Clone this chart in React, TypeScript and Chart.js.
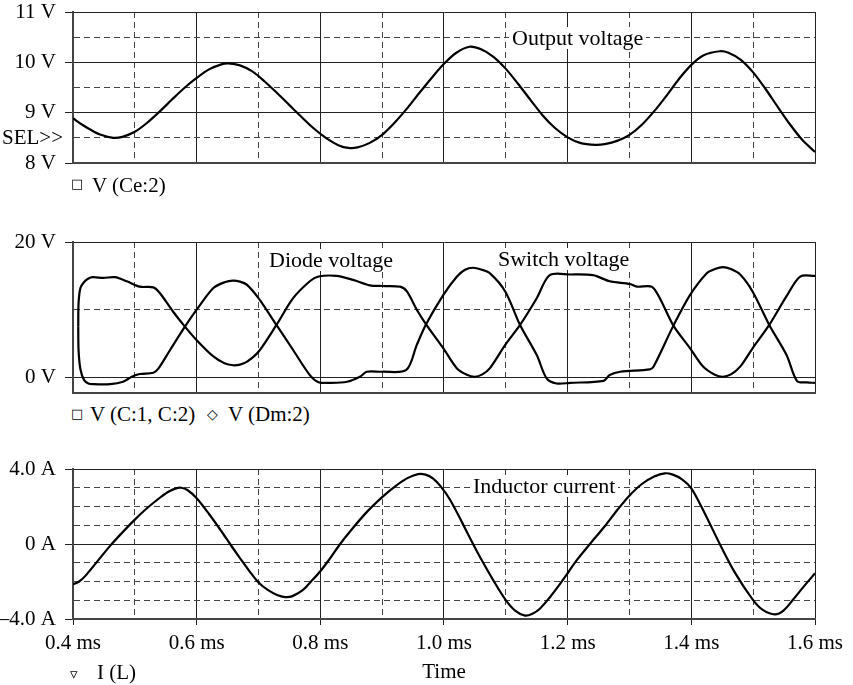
import React, { useEffect, useRef } from 'react';
import { Chart, registerables } from 'chart.js';
Chart.register(...registerables);

const FONT = "'Liberation Serif', 'Times New Roman', serif";
const SYM_FONT = "'DejaVu Sans', sans-serif";

// ---- shared time axis ----
const xTicks = [0.4, 0.5, 0.6, 0.7, 0.8, 0.9, 1.0, 1.1, 1.2, 1.3, 1.4, 1.5, 1.6];
const xTickLabels = ['0.4 ms', '', '0.6 ms', '', '0.8 ms', '', '1.0 ms', '', '1.2 ms', '', '1.4 ms', '', '1.6 ms'];

// ---- Output voltage V(Ce:2) ----
const outTicks = [8, 8.5, 9, 9.5, 10, 10.5, 11];
const outTickLabels = ['8 V', '', '9 V', '', '10 V', '', '11 V'];
const outTime = [0.40, 0.415, 0.43, 0.445, 0.465, 0.48, 0.50, 0.52, 0.54, 0.56, 0.58, 0.60, 0.62, 0.64, 0.651, 0.67, 0.69, 0.71, 0.73, 0.75, 0.77, 0.79, 0.81, 0.83, 0.845, 0.86, 0.88, 0.90, 0.92, 0.94, 0.96, 0.98, 1.00, 1.02, 1.041, 1.06, 1.08, 1.10, 1.12, 1.14, 1.16, 1.18, 1.20, 1.22, 1.245, 1.26, 1.28, 1.30, 1.32, 1.34, 1.36, 1.38, 1.40, 1.42, 1.446, 1.46, 1.48, 1.50, 1.52, 1.54, 1.56, 1.58, 1.60];
const outVolt = [8.89, 8.76, 8.65, 8.56, 8.50, 8.52, 8.62, 8.80, 9.02, 9.26, 9.49, 9.69, 9.86, 9.96, 9.98, 9.94, 9.82, 9.62, 9.39, 9.15, 8.91, 8.68, 8.49, 8.35, 8.30, 8.31, 8.40, 8.56, 8.80, 9.08, 9.39, 9.69, 9.97, 10.19, 10.31, 10.26, 10.11, 9.87, 9.57, 9.25, 8.94, 8.69, 8.51, 8.40, 8.36, 8.375, 8.44, 8.56, 8.76, 9.03, 9.34, 9.67, 9.95, 10.14, 10.22, 10.19, 10.05, 9.80, 9.47, 9.11, 8.76, 8.45, 8.22];

// ---- Switch / diode voltages ----
const swTicks = [0, 10, 20];
const swTickLabels = ['0 V', '', '20 V'];
const swTimeA = [0.4085, 0.409, 0.412, 0.418, 0.425, 0.432, 0.449, 0.468, 0.487, 0.508, 0.530, 0.541, 0.562, 0.581, 0.600, 0.627, 0.645, 0.659, 0.670, 0.681, 0.700, 0.729, 0.756, 0.783, 0.797, 0.826, 0.853, 0.880, 0.90, 0.929, 0.940, 0.956, 0.971, 0.999, 1.021, 1.037, 1.050, 1.062, 1.074, 1.099, 1.123, 1.150, 1.171, 1.204, 1.241, 1.268, 1.301, 1.312, 1.336, 1.349, 1.371, 1.398, 1.419, 1.438, 1.451, 1.464, 1.479, 1.499, 1.526, 1.554, 1.576, 1.60];
const swVoltA = [7.5, 11.0, 13.2, 14.1, 14.6, 14.8, 14.7, 14.8, 14.2, 13.4, 13.3, 12.4, 9.7, 7.5, 5.5, 3.1, 2.1, 1.8, 1.9, 2.3, 3.8, 7.75, 11.7, 14.2, 14.9, 15.0, 14.4, 13.6, 13.5, 13.4, 12.7, 10.0, 7.85, 4.3, 1.33, 0.4, 0.1, 0.45, 1.33, 4.8, 7.75, 11.7, 15.1, 15.2, 15.1, 14.2, 13.8, 13.4, 13.4, 11.7, 7.65, 4.3, 1.6, 0.4, 0.1, 0.45, 1.6, 4.3, 7.75, 12.0, 14.9, 15.0];
const swTimeB = [0.4085, 0.409, 0.412, 0.418, 0.425, 0.432, 0.46, 0.481, 0.495, 0.508, 0.530, 0.538, 0.557, 0.581, 0.600, 0.627, 0.645, 0.659, 0.670, 0.681, 0.700, 0.729, 0.756, 0.783, 0.797, 0.816, 0.843, 0.864, 0.875, 0.90, 0.939, 0.956, 0.971, 0.999, 1.021, 1.034, 1.047, 1.060, 1.074, 1.099, 1.123, 1.150, 1.166, 1.182, 1.204, 1.258, 1.268, 1.285, 1.333, 1.339, 1.371, 1.398, 1.425, 1.438, 1.451, 1.464, 1.479, 1.499, 1.526, 1.554, 1.571, 1.587, 1.60];
const swVoltB = [7.5, 4.0, 1.2, -0.4, -0.9, -1.0, -1.0, -0.64, 0.1, 0.5, 0.7, 1.3, 4.05, 7.5, 10.0, 13.2, 14.05, 14.3, 14.15, 13.7, 11.7, 7.75, 4.05, 0.35, -0.7, -0.8, -0.64, 0.1, 0.84, 0.84, 1.1, 4.8, 7.85, 12.2, 14.9, 15.9, 16.2, 15.95, 15.4, 12.7, 7.75, 3.3, -0.15, -0.9, -0.8, -0.5, 0.35, 0.84, 1.2, 1.6, 7.65, 12.2, 15.4, 16.0, 16.3, 16.0, 15.2, 12.7, 7.75, 3.3, -0.54, -0.74, -0.8];

// ---- Inductor current I(L) ----
const curTicks = [-4, -3, -2, -1, 0, 1, 2, 3, 4];
const curTickLabels = ['\u20134.0 A', '', '', '', '0 A', '', '', '', '4.0 A'];
const curTime = [0.40, 0.41, 0.42, 0.44, 0.46, 0.48, 0.50, 0.52, 0.541, 0.555, 0.568, 0.575, 0.585, 0.60, 0.62, 0.64, 0.654, 0.67, 0.69, 0.70, 0.715, 0.73, 0.743, 0.755, 0.772, 0.785, 0.80, 0.815, 0.832, 0.85, 0.875, 0.90, 0.92, 0.94, 0.958, 0.97, 0.982, 0.994, 1.01, 1.03, 1.047, 1.06, 1.08, 1.099, 1.115, 1.131, 1.143, 1.155, 1.171, 1.185, 1.198, 1.215, 1.236, 1.26, 1.28, 1.299, 1.32, 1.34, 1.357, 1.37, 1.385, 1.40, 1.42, 1.446, 1.47, 1.499, 1.515, 1.535, 1.549, 1.565, 1.581, 1.60];
const curAmp = [-2.16, -2.0, -1.7, -0.9, -0.1, 0.62, 1.30, 1.92, 2.48, 2.80, 2.98, 3.0, 2.88, 2.44, 1.60, 0.68, 0, -0.75, -1.65, -2.05, -2.45, -2.72, -2.83, -2.78, -2.45, -2.0, -1.45, -0.8, 0, 0.75, 1.7, 2.5, 3.05, 3.5, 3.73, 3.7, 3.5, 3.1, 2.35, 1.1, 0, -0.8, -1.95, -2.95, -3.55, -3.82, -3.72, -3.45, -2.85, -2.25, -1.65, -0.85, 0, 0.95, 1.8, 2.55, 3.2, 3.6, 3.77, 3.7, 3.45, 2.97, 1.75, 0, -1.5, -2.95, -3.5, -3.75, -3.55, -2.95, -2.3, -1.56];

const SOLID = '#222';
const DASHED = '#444';
const BORDER = '#444';
const CLEAR = 'rgba(0,0,0,0)';
const W = 853;

function pts(xs: number[], ys: number[]) {
  return xs.map((x, i) => ({ x, y: ys[i] }));
}

function xScale(showTicks: boolean, height: number, title: string) {
  return {
    type: 'linear',
    min: 0.4,
    max: 1.6,
    afterBuildTicks: (s: any) => { s.ticks = xTicks.map((v) => ({ value: v })); },
    afterFit: (s: any) => { s.height = height; s.paddingLeft = 0; s.paddingRight = 0; },
    ticks: {
      display: showTicks,
      autoSkip: false,
      maxRotation: 0,
      padding: 8,
      color: '#000',
      font: { family: FONT, size: 21, lineHeight: 1 },
      callback: (_v: any, i: number) => xTickLabels[i],
    },
    grid: {
      lineWidth: 1,
      color: (c: any) => (c.tick && !xTickLabels[c.index] ? DASHED : SOLID),
      drawTicks: showTicks,
      tickLength: 6,
      tickColor: (c: any) => (c.tick && xTickLabels[c.index] ? SOLID : CLEAR),
    },
    border: {
      display: true,
      color: BORDER,
      width: 2,
      dash: (c: any) => (c.tick && !xTickLabels[c.index] ? [6, 4] : []),
    },
    title: {
      display: !!title,
      text: title,
      color: '#000',
      font: { family: FONT, size: 21, lineHeight: 1.2 },
      padding: { top: 0, bottom: 0 },
    },
  };
}

function yScale(min: number, max: number, ticks: number[], labels: string[]) {
  return {
    type: 'linear',
    min,
    max,
    afterBuildTicks: (s: any) => { s.ticks = ticks.map((v) => ({ value: v })); },
    afterFit: (s: any) => { s.width = 73; s.paddingTop = 0; s.paddingBottom = 0; },
    ticks: {
      autoSkip: false,
      padding: 9,
      color: '#000',
      font: { family: FONT, size: 21, lineHeight: 1 },
      callback: (_v: any, i: number) => labels[i],
    },
    grid: {
      lineWidth: 1,
      color: (c: any) => (c.tick && !labels[c.index] ? DASHED : SOLID),
      drawTicks: true,
      tickLength: 8,
      tickColor: (c: any) => (c.tick && labels[c.index] ? SOLID : CLEAR),
    },
    border: {
      display: true,
      color: BORDER,
      width: 2,
      dash: (c: any) => (c.tick && !labels[c.index] ? [6, 4] : []),
    },
  };
}

function lineDs(label: string, data: any[]) {
  return {
    label,
    data,
    borderColor: '#000',
    borderWidth: 2.2,
    pointRadius: 0,
    fill: false,
    tension: 0.3,
  };
}

function baseOptions(padTop: number, scales: any) {
  return {
    responsive: false,
    animation: false,
    events: [],
    layout: { padding: { top: padTop, right: 38, left: 0, bottom: 0 } },
    plugins: { legend: { display: false }, tooltip: { enabled: false } },
    scales,
  };
}

function useChart(ref: React.RefObject<HTMLCanvasElement>, makeConfig: () => any) {
  useEffect(() => {
    if (!ref.current) return;
    const chart = new Chart(ref.current, makeConfig());
    return () => chart.destroy();
  }, []);
}

function Txt(props: { x: number; cy: number; text: string; bg?: boolean; right?: boolean; family?: string; size?: number }) {
  const { x, cy, text, bg, right, family, size } = props;
  const style: React.CSSProperties = {
    position: 'absolute',
    top: cy - 11,
    height: 22,
    lineHeight: '22px',
    fontFamily: family || FONT,
    fontSize: size || 21,
    color: '#000',
    whiteSpace: 'nowrap',
    background: bg ? '#fff' : 'transparent',
    padding: bg ? '0 3px' : 0,
  };
  if (right) {
    style.left = 0;
    style.width = x;
    style.textAlign = 'right';
  } else {
    style.left = bg ? x - 3 : x;
  }
  return <div style={style}>{text}</div>;
}

export default function App() {
  const c1 = useRef<HTMLCanvasElement>(null);
  const c2 = useRef<HTMLCanvasElement>(null);
  const c3 = useRef<HTMLCanvasElement>(null);

  useChart(c1, () => ({
    type: 'line',
    data: { datasets: [lineDs('V (Ce:2)', pts(outTime, outVolt))] },
    options: baseOptions(12, { x: xScale(false, 7, ''), y: yScale(8, 11, outTicks, outTickLabels) }),
  }));

  useChart(c2, () => ({
    type: 'line',
    data: {
      datasets: [
        lineDs('V (C:1, C:2)', pts(swTimeA, swVoltA)),
        lineDs('V (Dm:2)', pts(swTimeB, swVoltB)),
      ],
    },
    options: baseOptions(42, { x: xScale(false, 7, ''), y: yScale(-2.3, 20, swTicks, swTickLabels) }),
  }));

  useChart(c3, () => ({
    type: 'line',
    data: { datasets: [lineDs('I (L)', pts(curTime, curAmp))] },
    options: baseOptions(29, { x: xScale(true, 66, 'Time'), y: yScale(-4, 4, curTicks, curTickLabels) }),
  }));

  return (
    <div style={{ position: 'absolute', left: 0, top: 0, width: W, height: 685, background: '#fff', overflow: 'hidden' }}>
      <canvas ref={c1} width={W} height={170} style={{ position: 'absolute', left: 0, top: 0 }} />
      <canvas ref={c2} width={W} height={200} style={{ position: 'absolute', left: 0, top: 200 }} />
      <canvas ref={c3} width={W} height={245} style={{ position: 'absolute', left: 0, top: 440 }} />

      <Txt x={63} cy={137} text="SEL>>" right />
      <Txt x={512} cy={37.5} text="Output voltage" bg size={22} />
      <Txt x={269} cy={259.5} text="Diode voltage" bg size={22} />
      <Txt x={498} cy={259} text="Switch voltage" bg size={22} />
      <Txt x={473} cy={486} text="Inductor current" bg size={22} />

      <Txt x={71} cy={184} text={'\u25A1'} family={SYM_FONT} size={13} />
      <Txt x={92} cy={185} text="V (Ce:2)" />

      <Txt x={71} cy={414} text={'\u25A1'} family={SYM_FONT} size={13} />
      <Txt x={90} cy={414} text="V (C:1, C:2)" />
      <Txt x={207} cy={414} text={'\u25C7'} family={SYM_FONT} size={14} />
      <Txt x={228} cy={414} text="V (Dm:2)" />

      <Txt x={70} cy={674} text={'\u25BF'} family={SYM_FONT} size={15} />
      <Txt x={97} cy={672} text="I (L)" />
    </div>
  );
}
